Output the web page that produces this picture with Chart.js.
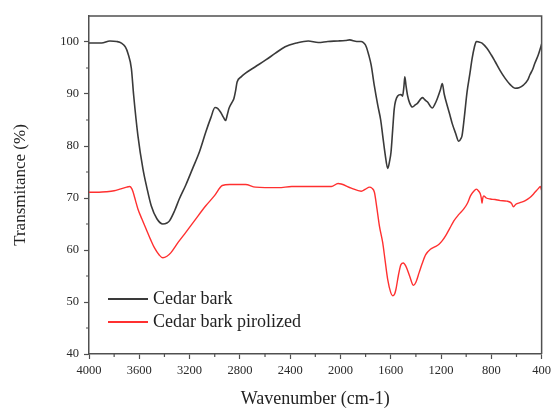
<!DOCTYPE html>
<html>
<head>
<meta charset="utf-8">
<script src="https://cdn.jsdelivr.net/npm/chart.js@4"></script>
<style>
  html, body { margin: 0; padding: 0; background: #fff; }
  #wrap { width: 555px; height: 410px; }
</style>
</head>
<body>
<div id="wrap"><canvas id="ftirCanvas" width="555" height="410"></canvas></div>
<script>
// wavenumber (cm-1) and transmittance (%)
const barkWn = [4000, 3900, 3834, 3780, 3742, 3710, 3690, 3663, 3645, 3611, 3571, 3540, 3505, 3460, 3413, 3380, 3360, 3320, 3282, 3230,
  3177, 3120, 3071, 3030, 2998, 2975, 2953, 2930, 2914, 2900, 2887, 2865, 2848, 2835, 2822, 2790, 2755, 2680, 2597, 2520,
  2440, 2350, 2256, 2177, 2100, 2019, 1960, 1927, 1870, 1835, 1810, 1795, 1775, 1756, 1730, 1703, 1680, 1664, 1645, 1624,
  1610, 1598, 1585, 1572, 1545, 1519, 1506, 1495, 1488, 1478, 1467, 1450, 1427, 1405, 1388, 1348, 1330, 1309, 1269, 1250,
  1230, 1205, 1190, 1175, 1151, 1130, 1111, 1085, 1059, 1040, 1033, 1015, 993, 970, 953, 935, 919, 900, 874, 835,
  800, 769, 730, 690, 650, 612, 580, 545, 510, 493, 470, 454, 427, 406, 400];
const barkT = [99.8, 99.8, 100.2, 100.1, 99.8, 99.0, 97.8, 94.9, 89.8, 82.0, 75.6, 72.0, 68.5, 66.0, 65.0, 65.2, 65.6, 67.5, 69.8, 72.5,
  75.6, 79.0, 82.7, 85.5, 87.4, 87.2, 86.5, 85.5, 84.9, 86.0, 87.2, 88.3, 89.1, 90.5, 92.3, 93.3, 94.0, 95.2, 96.5, 97.8,
  99.1, 99.8, 100.2, 99.9, 100.1, 100.2, 100.3, 100.4, 100.1, 100.1, 99.7, 99.1, 97.5, 95.6, 91.5, 87.8, 85.0, 82.0, 78.5, 75.7,
  77.0, 78.8, 83.0, 87.2, 89.6, 89.9, 89.6, 91.5, 93.3, 91.5, 89.8, 88.3, 87.5, 87.9, 88.2, 89.3, 88.9, 88.5, 87.3, 88.0,
  89.1, 90.8, 92.0, 90.0, 87.8, 86.0, 84.3, 82.5, 80.9, 81.5, 82.0, 85.5, 90.4, 94.0, 96.8, 99.0, 100.1, 100.0, 99.8, 98.8,
  97.5, 96.2, 94.5, 93.0, 91.8, 91.1, 91.2, 91.7, 92.7, 93.7, 94.8, 95.9, 97.5, 99.1, 99.6];

const pyroWn = [4000, 3920, 3861, 3800, 3755, 3700, 3676, 3660, 3650, 3630, 3611, 3580, 3545, 3510, 3479, 3440, 3413, 3380, 3348, 3290,
  3230, 3150, 3071, 3000, 2940, 2880, 2755, 2676, 2493, 2387, 2177, 2072, 2019, 1994, 1914, 1835, 1800, 1769, 1750, 1730,
  1710, 1690, 1664, 1645, 1624, 1600, 1585, 1570, 1559, 1540, 1519, 1500, 1480, 1450, 1419, 1400, 1375, 1350, 1322, 1282,
  1250, 1216, 1190, 1164, 1130, 1098, 1060, 1019, 990, 966, 940, 919, 900, 888, 880, 874, 868, 861, 840, 808,
  770, 729, 677, 640, 624, 605, 572, 530, 493, 460, 427, 410, 400];
const pyroT = [71.1, 71.1, 71.2, 71.4, 71.7, 72.1, 72.2, 71.8, 71.2, 69.5, 67.9, 66.0, 64.0, 62.0, 60.4, 59.0, 58.5, 58.8, 59.5, 61.5,
  63.4, 66.0, 68.5, 70.5, 72.4, 72.6, 72.6, 72.1, 72.0, 72.2, 72.2, 72.2, 72.8, 72.7, 71.9, 71.3, 71.7, 72.1, 71.9, 71.1,
  68.0, 64.6, 61.4, 58.0, 54.3, 51.8, 51.2, 51.5, 52.4, 55.0, 57.2, 57.5, 56.9, 55.0, 53.2, 53.8, 55.6, 57.4, 59.1, 60.2,
  60.6, 61.1, 61.8, 62.7, 64.2, 65.6, 66.8, 67.9, 69.0, 70.4, 71.3, 71.7, 71.3, 70.8, 70.0, 69.0, 70.0, 70.4, 70.0, 69.8,
  69.7, 69.5, 69.4, 69.0, 68.3, 68.8, 69.1, 69.5, 70.1, 70.9, 71.8, 72.2, 71.5];

const seriesNames = ['Cedar bark', 'Cedar bark pirolized'];
const seriesColors = ['#3a3a3a', '#ff3030'];

const SERIF = '"Liberation Serif", "Times New Roman", serif';
const AXIS_COLOR = '#505050';

const toPoints = (xs, ys) => xs.map((x, i) => ({ x: x, y: ys[i] }));

// top/right frame, minor ticks
const framePlugin = {
  id: 'frame',
  afterDraw(chart) {
    const { ctx, chartArea: a, scales } = chart;
    ctx.save();
    ctx.strokeStyle = AXIS_COLOR;
    ctx.lineWidth = 1.5;
    ctx.beginPath();
    ctx.moveTo(a.left, a.top);
    ctx.lineTo(a.right, a.top);
    ctx.lineTo(a.right, a.bottom);
    ctx.stroke();

    ctx.lineWidth = 1.2;
    ctx.beginPath();
    for (let v = 600; v < 4000; v += 400) {
      const px = scales.x.getPixelForValue(v);
      ctx.moveTo(px, a.bottom);
      ctx.lineTo(px, a.bottom + 3);
    }
    for (let v = 45; v < 105; v += 10) {
      const py = scales.y.getPixelForValue(v);
      ctx.moveTo(a.left, py);
      ctx.lineTo(a.left - 3, py);
    }
    ctx.stroke();
    ctx.restore();
  }
};

// legend drawn inside the plot, lower left
const legendPlugin = {
  id: 'innerLegend',
  afterDraw(chart) {
    const { ctx, chartArea: a } = chart;
    const x0 = a.left + 19;
    let y = a.bottom - 55;
    ctx.save();
    ctx.font = '18px ' + SERIF;
    ctx.textBaseline = 'middle';
    chart.data.datasets.forEach(ds => {
      ctx.strokeStyle = ds.borderColor;
      ctx.lineWidth = 2;
      ctx.beginPath();
      ctx.moveTo(x0, y);
      ctx.lineTo(x0 + 40, y);
      ctx.stroke();
      ctx.fillStyle = '#222';
      ctx.fillText(ds.label, x0 + 45, y);
      y += 23;
    });
    ctx.restore();
  }
};

new Chart(document.getElementById('ftirCanvas').getContext('2d'), {
  type: 'line',
  data: {
    datasets: [
      {
        label: seriesNames[0],
        data: toPoints(barkWn, barkT),
        borderColor: seriesColors[0],
        borderWidth: 1.6,
        pointRadius: 0,
        cubicInterpolationMode: 'monotone'
      },
      {
        label: seriesNames[1],
        data: toPoints(pyroWn, pyroT),
        borderColor: seriesColors[1],
        borderWidth: 1.4,
        pointRadius: 0,
        cubicInterpolationMode: 'monotone'
      }
    ]
  },
  options: {
    responsive: false,
    animation: false,
    layout: { padding: { top: 16, right: 10, left: 0, bottom: 0 } },
    plugins: { legend: { display: false }, tooltip: { enabled: false } },
    scales: {
      x: {
        type: 'linear',
        reverse: true,
        min: 400,
        max: 4000,
        afterFit: s => { s.height = 56; },
        border: { color: AXIS_COLOR, width: 1.5 },
        grid: { drawOnChartArea: false, tickLength: 5, tickColor: AXIS_COLOR, tickWidth: 1.2 },
        ticks: { stepSize: 400, maxRotation: 0, autoSkip: false, padding: 4, color: '#2a2a2a', font: { family: SERIF, size: 12.5 },
          callback: v => String(v) },
        title: { display: true, text: 'Wavenumber (cm-1)', color: '#222', padding: { top: 0, bottom: 0 }, font: { family: SERIF, size: 18 } }
      },
      y: {
        min: 40,
        max: 105,
        afterFit: s => { s.width = 89; },
        border: { color: AXIS_COLOR, width: 1.5 },
        grid: { drawOnChartArea: false, tickLength: 5, tickColor: AXIS_COLOR, tickWidth: 1.2 },
        ticks: { stepSize: 10, includeBounds: false, padding: 5, color: '#2a2a2a', font: { family: SERIF, size: 12.5 },
          callback: v => String(v) },
        title: { display: true, text: 'Transmitance (%)', color: '#222', padding: { top: 10, bottom: 0 }, font: { family: SERIF, size: 17 } }
      }
    }
  },
  plugins: [framePlugin, legendPlugin]
});
</script>
</body>
</html>
